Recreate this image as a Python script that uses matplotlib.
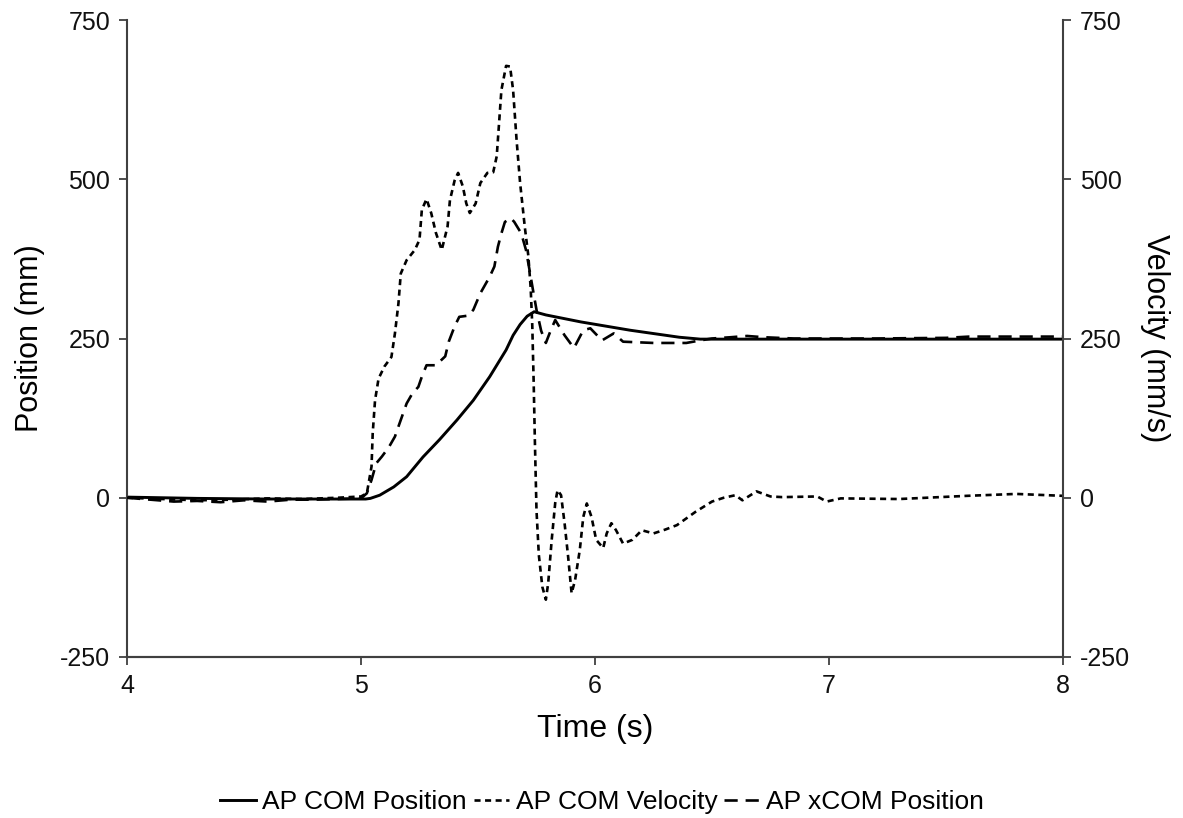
import numpy as np
import matplotlib.pyplot as plt

plt.rcParams['font.family'] = ['Liberation Sans', 'DejaVu Sans']
plt.rcParams['axes.unicode_minus'] = False

# AP COM position (mm)
posTime = [4.0, 4.3, 4.6, 4.9, 5.02, 5.04, 5.08, 5.14, 5.195, 5.265, 5.335, 5.41, 5.48,
           5.55, 5.62, 5.65, 5.68, 5.71, 5.74, 5.79, 5.94, 6.15, 6.36, 6.45, 7.0, 7.5, 8.0]
posVal = [1, -1, -2, -2, -2, -1, 4, 17, 33, 64, 91, 122, 153,
          190, 232, 255, 272, 285, 292, 287, 276, 263, 252, 249, 249, 249, 249]

# AP COM velocity (mm/s)
velTime = [4.0, 4.15, 4.3, 4.45, 4.6, 4.75, 4.9, 5.0, 5.025, 5.045, 5.05, 5.06, 5.075,
           5.10, 5.13, 5.145, 5.16, 5.17, 5.195, 5.23, 5.25, 5.26, 5.28, 5.30, 5.32,
           5.345, 5.37, 5.38, 5.40, 5.415, 5.435, 5.45, 5.465, 5.49, 5.51, 5.54, 5.565,
           5.58, 5.59, 5.60, 5.62, 5.637, 5.65, 5.665, 5.68, 5.70, 5.715, 5.725, 5.732,
           5.738, 5.743, 5.75, 5.76, 5.775, 5.79, 5.80, 5.815, 5.83, 5.84, 5.855, 5.87,
           5.885, 5.90, 5.915, 5.935, 5.95, 5.965, 5.985, 6.005, 6.035, 6.05, 6.07, 6.09,
           6.12, 6.16, 6.20, 6.25, 6.30, 6.35, 6.43, 6.50, 6.55, 6.60, 6.63, 6.69, 6.75,
           6.80, 6.95, 6.99, 7.05, 7.30, 7.59, 7.80, 8.0]
velVal = [0, -2, -4, -3, -1, -2, 0, 2, 7, 49, 101, 153, 187,
          206, 221, 258, 305, 352, 373, 389, 405, 452, 469, 447, 416,
          389, 426, 467, 498, 510, 489, 462, 447, 462, 494, 510, 511,
          536, 588, 640, 678, 677, 640, 561, 494, 425, 380, 330, 270,
          180, 90, -20, -90, -140, -160, -134, -66, -8, 12, 4, -40,
          -92, -150, -129, -82, -30, -9, -30, -66, -79, -56, -40, -51,
          -72, -66, -51, -56, -50, -43, -22, -6, 0, 4, -4, 10, 2,
          1, 2, -6, -1, -2, 3, 6, 3]

# AP xCOM position (mm)
xcomTime = [4.0, 4.1, 4.2, 4.3, 4.4, 4.5, 4.6, 4.7, 4.8, 4.9, 5.0, 5.025, 5.045, 5.065,
            5.09, 5.12, 5.145, 5.165, 5.195, 5.22, 5.245, 5.26, 5.28, 5.32, 5.36, 5.375,
            5.40, 5.42, 5.46, 5.48, 5.51, 5.55, 5.57, 5.585, 5.60, 5.615, 5.64, 5.655,
            5.685, 5.705, 5.72, 5.735, 5.75, 5.77, 5.79, 5.81, 5.83, 5.87, 5.91, 5.95,
            5.98, 6.03, 6.08, 6.12, 6.25, 6.39, 6.45, 6.5, 6.58, 6.65, 6.72, 6.85, 7.2,
            7.5, 7.6, 8.0]
xcomVal = [0, -3, -6, -5, -7, -4, -6, -3, -3, -2, -1, 7, 28, 54,
           65, 80, 96, 117, 148, 164, 174, 190, 208, 208, 222, 245,
           269, 284, 286, 295, 321, 347, 363, 394, 415, 433, 439, 433,
           415, 389, 358, 326, 295, 262, 243, 262, 279, 255, 235, 263,
           266, 247, 258, 245, 243, 243, 247, 250, 252, 254, 252, 250, 250,
           251, 253, 253]

yTicks = [-250, 0, 250, 500, 750]
xTicks = [4, 5, 6, 7, 8]

spineColor = '#404040'

fig = plt.figure(figsize=(11.83, 8.18), dpi=100)
ax = fig.add_axes([127 / 1183, 1 - 657 / 818, 936 / 1183, 637 / 818])
ax2 = ax.twinx()

l1, = ax.plot(posTime, posVal, color='black', lw=2.1, solid_joinstyle='round')
l2, = ax2.plot(velTime, velVal, color='black', lw=1.9, dashes=(2.3, 1.7))
l3, = ax.plot(xcomTime, xcomVal, color='black', lw=1.9, dashes=(5.0, 3.0))

for a in (ax, ax2):
    a.set_xlim(4, 8)
    a.set_ylim(-250, 750)
    a.set_yticks(yTicks)
    a.spines['top'].set_visible(False)
    for s in a.spines.values():
        s.set_color(spineColor)
        s.set_linewidth(1.5)
    a.tick_params(colors=spineColor, labelcolor='#111111', labelsize=18,
                  length=6, width=1.3, pad=6)

ax.set_xticks(xTicks)
ax.spines['right'].set_visible(False)
ax2.spines['left'].set_visible(False)

ax.set_xlabel('Time (s)', fontsize=23)
ax.set_ylabel('Position (mm)', fontsize=22)
ax2.set_ylabel('Velocity (mm/s)', fontsize=22, rotation=270, va='center')
ax.xaxis.set_label_coords(0.5, -0.09)
ax.yaxis.set_label_coords(-0.088, 0.5)
ax2.yaxis.set_label_coords(1.098, 0.5)

fig.legend([l1, l2, l3], ['AP COM Position', 'AP COM Velocity', 'AP xCOM Position'],
           loc='center', bbox_to_anchor=(0.509, 0.0196), ncol=3, frameon=False,
           fontsize=19, handlelength=1.35, handletextpad=0.25, columnspacing=0.25)

fig.savefig('out.png', dpi=100)
